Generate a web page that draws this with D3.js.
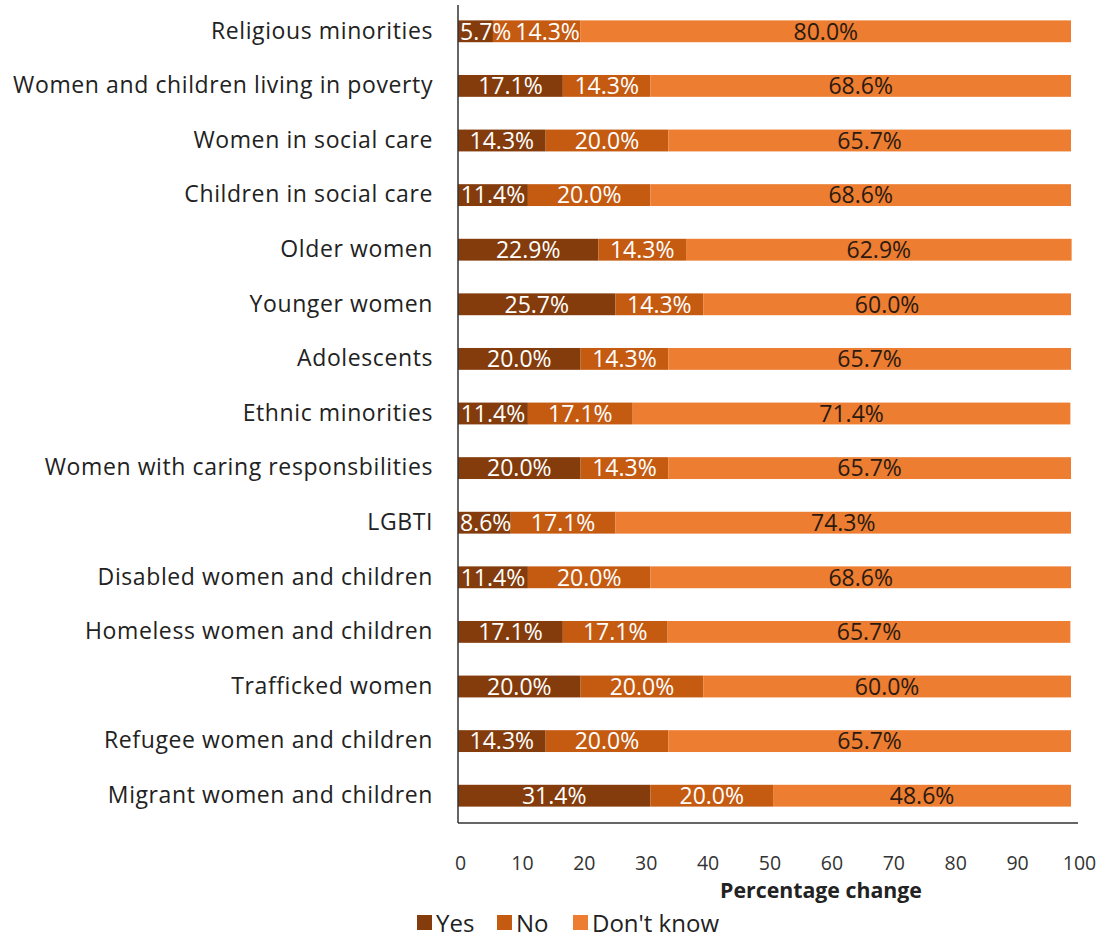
<!DOCTYPE html>
<html><head><meta charset="utf-8">
<script src="https://cdn.jsdelivr.net/npm/d3@7"></script>
<style>body{margin:0;background:#fff;} text{font-family:"Open Sans","Noto Sans",sans-serif;}</style>
</head><body><svg id="c" width="1101" height="938"></svg>
<script>
const categories = ["Religious minorities","Women and children living in poverty","Women in social care","Children in social care","Older women","Younger women","Adolescents","Ethnic minorities","Women with caring responsbilities","LGBTI","Disabled women and children","Homeless women and children","Trafficked women","Refugee women and children","Migrant women and children"];
const yesValues = [5.7,17.1,14.3,11.4,22.9,25.7,20.0,11.4,20.0,8.6,11.4,17.1,20.0,14.3,31.4];
const noValues = [14.3,14.3,20.0,20.0,14.3,14.3,14.3,17.1,14.3,17.1,20.0,17.1,20.0,20.0,20.0];
const dkValues = [80.0,68.6,65.7,68.6,62.9,60.0,65.7,71.4,65.7,74.3,68.6,65.7,60.0,65.7,48.6];
const seriesNames = ["Yes","No","Don't know"];
const xTicks = [0,10,20,30,40,50,60,70,80,90,100];
const colors = ["#843C0C","#C55A11","#ED7D31"];
const labelColors = ["#fff","#fff","#2b1a10"];

const svg = d3.select("#c");
const mLeft = 458, mRight = 1071, mTop = 4, mBottom = 823;
const x = d3.scaleLinear().domain([0,100]).range([mLeft,mRight]);
const xTickScale = d3.scaleLinear().domain([0,100]).range([mLeft+2,mRight+8]);
const y = d3.scaleBand().domain(categories).range([mTop,mBottom]).paddingInner(0.6).paddingOuter(0.3);

const rows = categories.map((c,i)=>({cat:c, vals:[yesValues[i],noValues[i],dkValues[i]]}));
const barLayer = svg.append("g"), labelLayer = svg.append("g");
rows.forEach(r=>{
  let acc=0, prevRight=mLeft-2;
  r.vals.forEach((v,k)=>{
    const x0=acc; acc+=v;
    barLayer.append("rect").attr("x",x(x0)).attr("y",y(r.cat)).attr("width",x(acc)-x(x0)).attr("height",y.bandwidth()).attr("fill",colors[k]);
    const t = labelLayer.append("text").attr("y",y(r.cat)+y.bandwidth()/2).attr("dy","0.36em")
      .attr("font-size",23).attr("fill",labelColors[k]).text(v.toFixed(1)+"%");
    const w = t.node().getComputedTextLength();
    let lx = (x(x0)+x(acc))/2 - w/2;
    lx = Math.max(lx, prevRight+4);
    t.attr("x",lx);
    prevRight = lx + w;
  });
});

// y axis labels
const yAxis = d3.axisLeft(y).tickSize(0).tickPadding(25);
const gy = svg.append("g").attr("transform",`translate(${mLeft},0)`).call(yAxis);
gy.select(".domain").attr("stroke","#333").attr("stroke-width",1.5).attr("d",`M0,5V${mBottom}`);
gy.selectAll("text").attr("font-size",23).attr("letter-spacing","0.6px").attr("fill","#222").attr("font-family","Open Sans, Noto Sans, sans-serif");

// x axis
const xAxis = d3.axisBottom(xTickScale).tickValues(xTicks).tickSize(0).tickPadding(33);
const gx = svg.append("g").attr("transform",`translate(0,${mBottom})`).call(xAxis);
gx.select(".domain").attr("stroke","#333").attr("stroke-width",1.5).attr("d",`M${mLeft},0H${mRight+7}`);
gx.selectAll("text").attr("font-size",19.5).attr("fill","#333").attr("font-family","Open Sans, Noto Sans, sans-serif");

svg.append("text").attr("x",821).attr("y",898).attr("text-anchor","middle").attr("font-size",21.3).attr("font-weight","bold").attr("fill","#222").text("Percentage change");

// legend
const legX = [417,497,573];
seriesNames.forEach((n,k)=>{
  svg.append("rect").attr("x",legX[k]).attr("y",915).attr("width",15).attr("height",15).attr("fill",colors[k]);
  svg.append("text").attr("x",legX[k]+19).attr("y",932).attr("font-size",24).attr("fill","#222").text(n);
});
</script></body></html>
